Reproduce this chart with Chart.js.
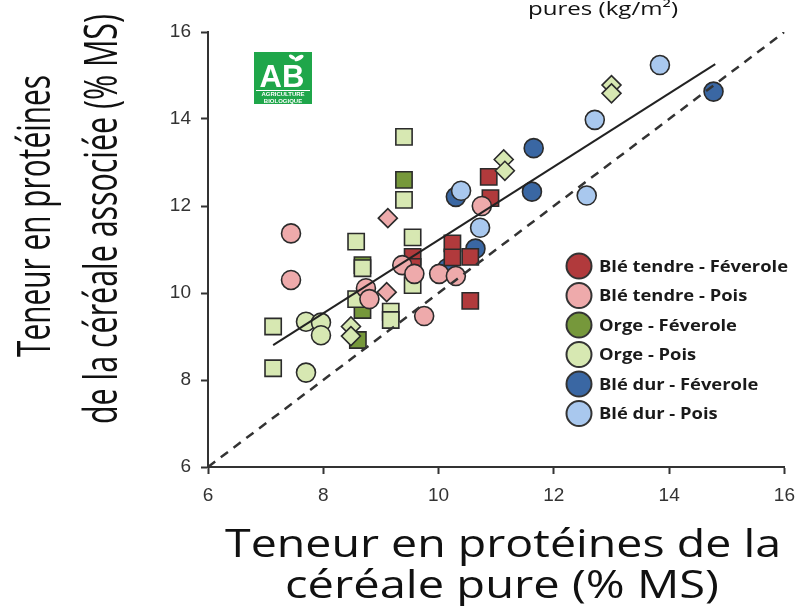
<!DOCTYPE html>
<html>
<head>
<meta charset="utf-8">
<script src="https://cdn.jsdelivr.net/npm/chart.js@4/dist/chart.umd.min.js"></script>
<style>
  html, body { margin: 0; padding: 0; background: #fff; }
  #wrap { width: 805px; height: 606px; }
</style>
</head>
<body>
<div id="wrap"><canvas id="c" width="805" height="606"></canvas></div>
<script>
// axes: protein content (% MS), same range on both axes
const axisMin = 6;
const axisMax = 16;
const axisStep = 2;

const seriesNames = ['Blé tendre - Féverole', 'Blé tendre - Pois', 'Orge - Féverole', 'Orge - Pois', 'Blé dur - Féverole', 'Blé dur - Pois'];
const seriesColors = ['#b13a3c', '#eeaaab', '#76983b', '#d7e8b2', '#3a67a3', '#a9c8ee'];

// [céréale pure, céréale associée, marqueur]  c = rond, s = carré, d = losange
const bleTendreFeverole = [
  [10.87, 12.67, 's'], [10.90, 12.18, 's'], [9.55, 10.83, 's'], [9.55, 10.60, 's'],
  [10.24, 11.14, 's'], [10.24, 10.82, 's'], [10.55, 10.83, 's'], [10.55, 9.82, 's']
];
const bleTendrePois = [
  [7.44, 11.37, 'c'], [7.44, 10.30, 'c'], [8.74, 10.11, 'c'], [8.80, 9.86, 'c'],
  [9.12, 11.72, 'd'], [9.10, 10.02, 'd'], [9.37, 10.64, 'c'], [9.58, 10.44, 'c'],
  [9.75, 9.47, 'c'], [10.01, 10.44, 'c'], [10.30, 10.39, 'c'], [10.75, 12.00, 'c']
];
const orgeFeverole = [
  [9.40, 12.60, 's'], [8.68, 10.64, 's'], [8.68, 9.61, 's'], [8.60, 8.92, 's']
];
const orgePois = [
  [9.40, 13.59, 's'], [9.40, 12.14, 's'], [8.57, 11.18, 's'], [8.68, 10.57, 's'],
  [9.55, 11.28, 's'], [9.55, 10.18, 's'], [8.57, 9.86, 's'], [9.17, 9.57, 's'],
  [9.17, 9.38, 's'], [7.13, 9.23, 's'], [7.13, 8.27, 's'],
  [7.70, 9.34, 'c'], [7.96, 9.32, 'c'], [7.96, 9.03, 'c'], [7.70, 8.17, 'c'],
  [8.48, 9.23, 'd'], [8.48, 9.01, 'd'], [11.13, 13.07, 'd'], [11.15, 12.81, 'd'],
  [13.00, 14.78, 'd'], [13.00, 14.59, 'd']
];
const bleDurFeverole = [
  [14.77, 14.63, 'c'], [11.65, 13.33, 'c'], [11.62, 12.33, 'c'],
  [10.30, 12.21, 'c'], [10.64, 11.02, 'c'], [10.15, 10.57, 'c']
];
const bleDurPois = [
  [13.84, 15.24, 'c'], [12.71, 13.98, 'c'], [12.57, 12.24, 'c'],
  [10.39, 12.35, 'c'], [10.72, 11.50, 'c']
];

// droite de régression et bissectrice 1:1
const trendX = [7.13, 14.80];
const trendY = [8.80, 15.26];
const bisectX = [6, 16];
const bisectY = [6, 16];

const allSeries = [bleTendreFeverole, bleTendrePois, orgeFeverole, orgePois, bleDurFeverole, bleDurPois];
const drawOrder = [4, 2, 5, 3, 6, 1]; // petit = dessus

const styleOf = { c: 'circle', s: 'rect', d: 'rectRot' };
const radiusOf = { c: 9.5, s: 11.5, d: 9.5 };

function toPoints(rows) {
  return rows.map(r => ({ x: r[0], y: r[1], m: r[2] }));
}

const datasets = [
  {
    label: 'tendance',
    data: trendX.map((x, i) => ({ x, y: trendY[i] })),
    showLine: true, borderColor: '#222', borderWidth: 2, pointRadius: 0, order: 0
  },
  {
    label: '1:1',
    data: bisectX.map((x, i) => ({ x, y: bisectY[i] })),
    showLine: true, borderColor: '#333', borderWidth: 2.5, borderDash: [9, 7], pointRadius: 0, order: 0
  }
];
allSeries.forEach((rows, i) => {
  datasets.push({
    label: seriesNames[i],
    data: toPoints(rows),
    backgroundColor: seriesColors[i],
    borderColor: '#2b2b2b',
    borderWidth: 1.6,
    pointStyle: ctx => styleOf[ctx.raw.m],
    pointRadius: ctx => radiusOf[ctx.raw.m],
    pointHoverRadius: ctx => radiusOf[ctx.raw.m],
    order: drawOrder[i]
  });
});

// texte compressé/étiré pour tenir une largeur donnée
function fitText(ctx, text, x, y, width, font, rotate) {
  ctx.save();
  ctx.font = font;
  const w = ctx.measureText(text).width;
  ctx.translate(x, y);
  if (rotate) ctx.rotate(-Math.PI / 2);
  ctx.scale(width / w, 1);
  ctx.textAlign = 'center';
  ctx.textBaseline = 'alphabetic';
  ctx.fillText(text, 0, 0);
  ctx.restore();
}

const decorPlugin = {
  id: 'decor',
  afterDraw(chart) {
    const ctx = chart.ctx;
    ctx.save();
    ctx.fillStyle = '#111';

    // titres des axes
    fitText(ctx, 'Teneur en protéines', 50, 216, 282, '400 46px "Open Sans"', true);
    fitText(ctx, 'de la céréale associée (% MS)', 117, 219, 410, '400 46px "Open Sans"', true);
    fitText(ctx, 'Teneur en protéines de la', 503, 557, 556, '400 39px "Open Sans"', false);
    fitText(ctx, 'céréale pure (% MS)', 502, 598, 434, '400 39px "Open Sans"', false);

    // bout de titre coupé en haut
    fitText(ctx, 'pures (kg/m²)', 603, 15, 150, '400 18px "Open Sans"', false);

    // logo AB
    ctx.fillStyle = '#1fa64a';
    ctx.fillRect(254, 52, 58, 52);
    ctx.fillStyle = '#fff';
    ctx.font = '700 31px "Liberation Sans"';
    ctx.textAlign = 'center';
    ctx.fillText('AB', 282, 87);
    ctx.beginPath();
    ctx.ellipse(299, 58, 5, 2.2, -0.5, 0, Math.PI * 2);
    ctx.fill();
    ctx.beginPath();
    ctx.ellipse(292, 57, 3.5, 1.8, 0.6, 0, Math.PI * 2);
    ctx.fill();
    ctx.fillRect(256, 90, 54, 1);
    ctx.font = '700 6px "Liberation Sans"';
    ctx.fillText('AGRICULTURE', 283, 96);
    ctx.fillText('BIOLOGIQUE', 283, 103);

    // légende
    ctx.font = '700 15.5px "Open Sans"';
    const k = 189 / ctx.measureText(seriesNames[0]).width;
    seriesNames.forEach((name, i) => {
      const cy = 266 + i * 29.5;
      ctx.beginPath();
      ctx.arc(579, cy, 12.5, 0, Math.PI * 2);
      ctx.fillStyle = seriesColors[i];
      ctx.fill();
      ctx.lineWidth = 2;
      ctx.strokeStyle = '#333';
      ctx.stroke();
      ctx.save();
      ctx.translate(599, cy + 5.5);
      ctx.scale(k, 1);
      ctx.fillStyle = '#1a1a1a';
      ctx.textAlign = 'left';
      ctx.fillText(name, 0, 0);
      ctx.restore();
    });
    ctx.restore();
  }
};

function axisOpts(fit, pad) {
  return {
    type: 'linear',
    min: axisMin,
    max: axisMax,
    ticks: {
      stepSize: axisStep,
      color: '#333',
      font: { family: '"Liberation Sans", Arial', size: 19 },
      padding: pad
    },
    grid: {
      drawOnChartArea: false,
      drawTicks: true,
      tickLength: 7,
      tickWidth: 2,
      tickColor: '#333'
    },
    border: { display: true, color: '#333', width: 2 },
    afterFit: fit
  };
}

new Chart(document.getElementById('c').getContext('2d'), {
  type: 'scatter',
  data: { datasets },
  options: {
    responsive: false,
    devicePixelRatio: 1,
    animation: false,
    layout: { padding: { left: 0, right: 18, top: 32, bottom: 0 } },
    plugins: { legend: { display: false }, tooltip: { enabled: false } },
    scales: {
      x: axisOpts(s => { s.height = 139; }, 10),
      y: axisOpts(s => { s.width = 208; }, 10)
    }
  },
  plugins: [decorPlugin]
});
</script>
</body>
</html>
